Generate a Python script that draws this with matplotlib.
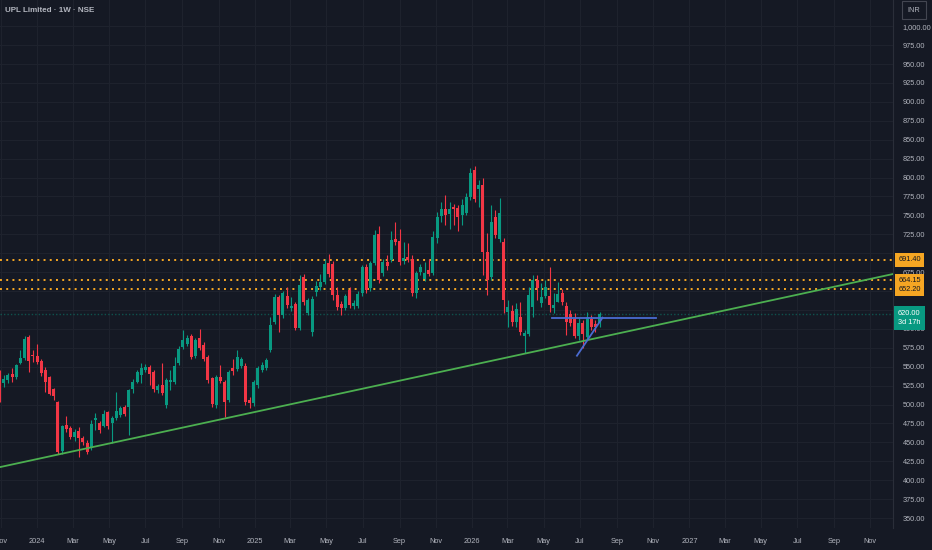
import pandas as pd
import matplotlib
matplotlib.use("Agg")
import matplotlib.pyplot as plt
import matplotlib.dates as mdates
import matplotlib.transforms as mtransforms

plt.rcParams["font.family"] = ["Liberation Sans", "DejaVu Sans"]

# weekly candles, first bar week of 2023-10-30
first_week = "2023-10-30"

opens = [539, 528, 532, 540, 536, 555, 561, 589, 566, 564,
         557, 545, 536, 520, 503, 438, 473, 469, 457, 465,
         456, 449, 442, 480, 475, 472, 490, 475, 482, 486,
         497, 497, 520, 530, 539, 546, 550, 543, 519, 526,
         499, 530, 530, 555, 576, 580, 590, 564, 588, 579,
         563, 535, 499, 536, 530, 506, 548, 547, 551, 551,
         506, 502, 526, 546, 548, 572, 609, 642, 618, 643,
         627, 633, 601, 668, 621, 596, 649, 655, 662, 687,
         686, 645, 633, 628, 651, 630, 630, 647, 682, 654,
         687, 725, 674, 688, 691, 719, 716, 690, 695, 693,
         647, 675, 666, 678, 674, 720, 749, 758, 752, 761,
         760, 750, 753, 774, 810, 785, 790, 702, 669, 748,
         719, 715, 622, 624, 609, 616, 591, 593, 629, 665,
         634, 643, 643, 628, 636, 647, 630, 620, 613, 591,
         608, 589, 613, 606, 608]
closes = [506, 534, 539, 536, 552, 561, 587, 557, 564, 556,
          542, 530, 514, 511, 437, 471, 468, 457, 464, 456,
          450, 437, 474, 482, 466, 487, 472, 482, 491, 495,
          487, 519, 530, 543, 548, 550, 540, 520, 524, 515,
          532, 532, 551, 574, 585, 588, 563, 585, 575, 560,
          532, 501, 536, 531, 503, 543, 544, 563, 560, 503,
          502, 530, 548, 552, 559, 605, 642, 618, 647, 632,
          630, 601, 658, 635, 638, 640, 657, 662, 686, 672,
          645, 629, 628, 643, 632, 634, 646, 682, 651, 687,
          724, 665, 688, 683, 717, 715, 688, 694, 691, 647,
          674, 682, 674, 673, 721, 748, 758, 750, 758, 759,
          748, 764, 774, 806, 772, 790, 702, 665, 741, 724,
          753, 638, 629, 609, 626, 596, 595, 645, 665, 654,
          642, 655, 632, 632, 646, 636, 609, 608, 591, 608,
          593, 616, 602, 602, 620]
highs = [546, 539, 542, 548, 554, 572, 590, 592, 572, 580,
         560, 550, 538, 522, 505, 473, 485, 471, 468, 470,
         458, 453, 480, 489, 478, 493, 492, 485, 517, 498,
         500, 521, 534, 546, 555, 553, 552, 545, 527, 555,
         535, 546, 563, 577, 598, 592, 593, 588, 600, 582,
         566, 537, 539, 552, 532, 546, 560, 572, 563, 555,
         510, 533, 551, 556, 562, 616, 646, 645, 650, 655,
         642, 636, 671, 672, 641, 644, 663, 672, 693, 699,
         690, 655, 637, 646, 655, 638, 650, 685, 686, 690,
         731, 736, 692, 698, 729, 741, 732, 715, 713, 697,
         677, 686, 688, 692, 729, 755, 768, 777, 768, 765,
         764, 772, 779, 812, 815, 797, 799, 727, 764, 757,
         773, 720, 638, 631, 634, 635, 598, 655, 671, 671,
         660, 665, 682, 647, 662, 653, 635, 625, 621, 614,
         612, 622, 618, 612, 622]
lows = [503, 523, 529, 530, 534, 553, 559, 543, 556, 553,
        538, 517, 512, 506, 435, 434, 464, 454, 452, 430,
        446, 434, 440, 466, 462, 470, 468, 449, 480, 484,
        485, 460, 515, 528, 528, 543, 526, 517, 515, 512,
        496, 519, 527, 552, 573, 577, 560, 561, 572, 557,
        529, 497, 496, 528, 483, 503, 539, 544, 548, 500,
        495, 498, 522, 543, 545, 569, 606, 596, 615, 628,
        623, 598, 598, 632, 618, 590, 644, 652, 659, 668,
        638, 625, 618, 625, 628, 626, 627, 644, 648, 650,
        684, 661, 670, 678, 688, 711, 685, 686, 688, 644,
        641, 671, 663, 670, 671, 713, 741, 737, 732, 737,
        729, 737, 750, 770, 768, 761, 671, 645, 665, 720,
        715, 621, 602, 604, 602, 592, 568, 590, 616, 638,
        629, 641, 622, 621, 636, 632, 592, 604, 588, 585,
        575, 585, 598, 596, 602]

levels = [691.40, 664.15, 652.20]
level_labels = ["691.40", "664.15", "652.20"]
last_price_label = "620.00\n3d 17h"
hidden_ticks = [625, 650, 700]   # covered by the price boxes

trend_dates = ["2023-12-25", "2026-11-13"]
trend_prices = [426.7, 606.0]
flat_dates = ["2026-05-15", "2026-11-06"]
flat_price = 614.5
diag_dates = ["2026-06-26", "2026-08-08"]
diag_prices = [564.5, 614.8]

BG = "#151924"
GRID = "#1e222d"
TXT = "#b2b5be"
UP = "#089981"
DOWN = "#f23645"
ORANGE = "#f5a623"
FS = 5.3

dates = pd.date_range(first_week, periods=len(opens), freq="W-MON")
x = mdates.date2num(dates)
cols = [UP if c >= o else DOWN for o, c in zip(opens, closes)]
bottoms = [min(o, c) for o, c in zip(opens, closes)]
heights = [max(abs(c - o), 0.9) for o, c in zip(opens, closes)]

fig = plt.figure(figsize=(9.32, 5.5), dpi=100, facecolor=BG)
ax = fig.add_axes([0, 22 / 550, 893 / 932, 528 / 550], facecolor=BG)

ax.vlines(x, lows, highs, colors=cols, linewidth=0.8, zorder=3)
ax.bar(x, heights, bottom=bottoms, width=5.0, color=cols, linewidth=0, zorder=4)

for lv in levels:
    ax.axhline(lv, color=ORANGE, linewidth=1.4, linestyle=(0, (1, 2.2)), zorder=2)
ax.axhline(closes[-1], color=UP, linewidth=1.0, linestyle=(0, (1, 1.5)), alpha=0.45, zorder=2)

td = mdates.date2num(pd.to_datetime(trend_dates))
ax.axline((td[0], trend_prices[0]), (td[1], trend_prices[1]), color="#4caf50", linewidth=1.3, zorder=5)
fd = mdates.date2num(pd.to_datetime(flat_dates))
ax.plot(fd, [flat_price, flat_price], color="#4a6bd1", linewidth=1.3, zorder=5)
dd = mdates.date2num(pd.to_datetime(diag_dates))
ax.plot(dd, diag_prices, color="#4a6bd1", linewidth=1.3, zorder=5)

ax.set_xlim(mdates.date2num(pd.Timestamp("2023-10-30 18:00")), mdates.date2num(pd.Timestamp("2027-12-09")))
ax.set_ylim(336.8, 1034.7)


def time_label(v, pos):
    d = mdates.num2date(v)
    return d.strftime("%Y") if d.month == 1 else d.strftime("%b")


# time axis: every second month, years on january
ax.xaxis.set_major_locator(mdates.MonthLocator(bymonth=[1, 3, 5, 7, 9, 11]))
ax.xaxis.set_major_formatter(matplotlib.ticker.FuncFormatter(time_label))
ax.yaxis.tick_right()
ax.set_yticks(range(350, 1001, 25))
ax.yaxis.set_major_formatter(matplotlib.ticker.FuncFormatter(
    lambda v, p: "" if int(round(v)) in hidden_ticks else f"{v:,.2f}"))
ax.tick_params(axis="both", length=0, colors=TXT, labelsize=FS)
ax.tick_params(axis="y", pad=7)
ax.tick_params(axis="x", pad=7.5)
ax.grid(True, color=GRID, linewidth=0.8, zorder=0)
for side in ["top", "left", "bottom"]:
    ax.spines[side].set_visible(False)
ax.spines["right"].set_color("#2a2e39")

trans = mtransforms.blended_transform_factory(ax.transAxes, ax.transData)
for lv, lab in zip(levels, level_labels):
    ax.text(1.0058, lv, lab, transform=trans, ha="left", va="center", fontsize=FS,
            color="#131722", clip_on=False, zorder=10,
            bbox=dict(boxstyle="square,pad=0.45", fc=ORANGE, ec="none"))
ax.annotate(last_price_label, xy=(1.0, closes[-1]), xycoords=trans, xytext=(3.5, 2.8),
            textcoords="offset points", ha="left", va="top", fontsize=FS, color="white",
            linespacing=1.4, annotation_clip=False, zorder=10,
            bbox=dict(boxstyle="square,pad=0.55", fc=UP, ec="none"))

fig.text(5 / 932, 1 - 10 / 550, "UPL Limited · 1W · NSE", color=TXT, fontsize=5.8,
         ha="left", va="center", weight="bold")
fig.text(914 / 932, 1 - 10 / 550, "INR", color=TXT, fontsize=FS, ha="center", va="center",
         bbox=dict(boxstyle="square,pad=0.8", fc=BG, ec="#434651", lw=0.8))

fig.savefig("out.png", dpi=100, facecolor=BG)
